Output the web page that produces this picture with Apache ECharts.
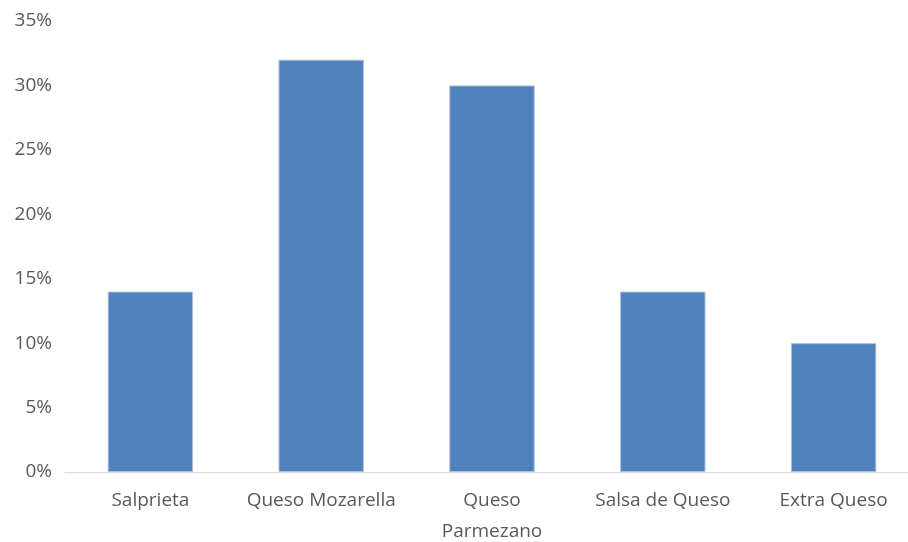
<!DOCTYPE html>
<html><head><meta charset="utf-8">
<script src="https://cdn.jsdelivr.net/npm/echarts@6/dist/echarts.min.js"></script>
<style>html,body{margin:0;padding:0;background:#fff}#c{width:908px;height:542px}</style>
</head><body><div id="c"></div>
<script>
var categories = ["Salprieta", "Queso Mozarella", "Queso\nParmezano", "Salsa de Queso", "Extra Queso"];
var values = [14, 32, 30, 14, 10];
var yTicks = {min: 0, max: 35, interval: 5};

var chart = echarts.init(document.getElementById('c'), null, {renderer: 'canvas'});
chart.setOption({
  animation: false,
  grid: {left: 65, width: 854, top: 21, bottom: 70, containLabel: false, outerBoundsMode: 'none'},
  xAxis: {
    type: 'category', data: categories,
    axisLine: {show: true, lineStyle: {color: '#d9d9d9', width: 1}},
    axisTick: {show: false},
    axisLabel: {color: '#595959', fontSize: 19, fontFamily: 'Open Sans', lineHeight: 31, margin: 13, interval: 0}
  },
  yAxis: {
    type: 'value', min: yTicks.min, max: yTicks.max, interval: yTicks.interval,
    axisLine: {show: false}, axisTick: {show: false},
    splitLine: {show: false},
    axisLabel: {color: '#595959', fontSize: 19, fontFamily: 'Open Sans', margin: 13, formatter: '{value}%'}
  },
  series: [{
    type: 'bar', data: values, barWidth: '50%',
    itemStyle: {color: '#4f81bd', borderColor: '#a9c0de', borderWidth: 1}
  }]
});
</script></body></html>
